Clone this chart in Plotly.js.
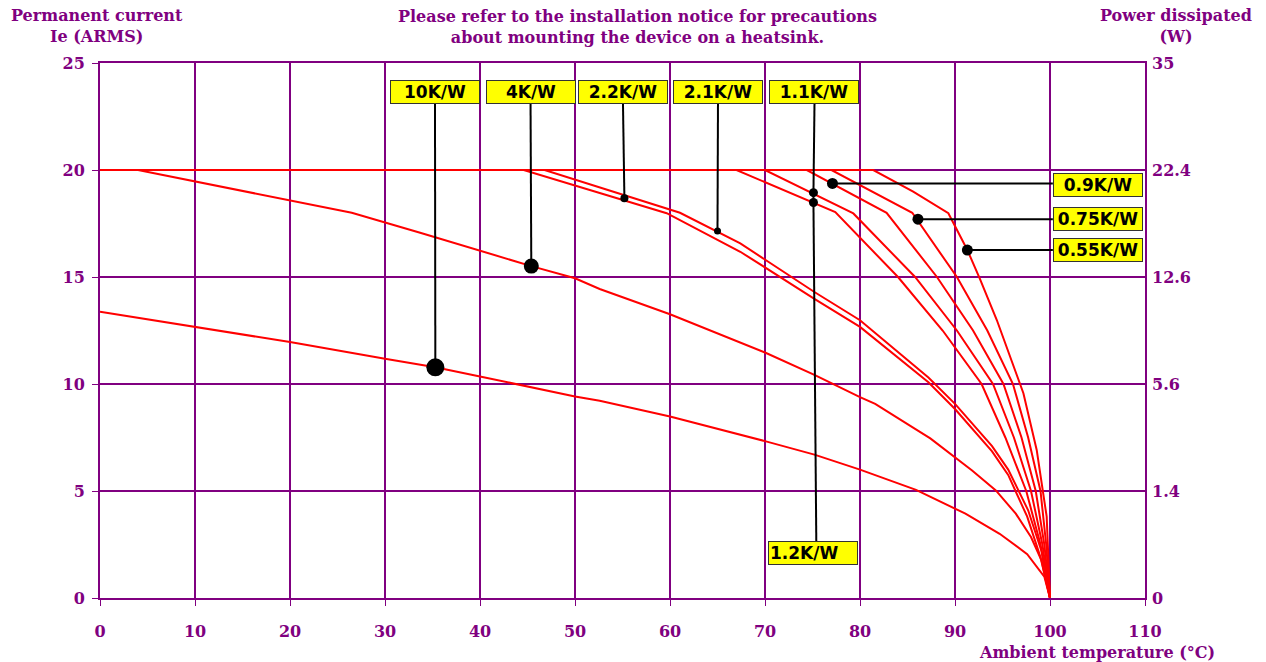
<!DOCTYPE html>
<html><head><meta charset="utf-8">
<script src="https://cdn.plot.ly/plotly-3.0.1.min.js"></script>
<style>html,body{margin:0;padding:0;background:#fff}#chart{width:1266px;height:662px}</style>
</head><body><div id="chart"></div>
<script>
// ---- data ----
const t10 = [0,10,20,30,35.3,40,50,52.6,60,70,75.2,80,85.9,91.1,94.7,97.6,99.4,100];
const i10 = [13.38,12.68,11.96,11.18,10.78,10.35,9.42,9.22,8.48,7.33,6.70,6.0,5.05,3.94,3.0,2.05,1.0,0];
const t4 = [0,4,26.5,33.7,45.4,50,52.6,60,70,75.2,80,81.6,85.8,87.4,91.8,94.3,96.4,98.0,99.1,100];
const i4 = [20,20,18.0,17.07,15.51,14.94,14.44,13.26,11.47,10.43,9.39,9.07,7.9,7.46,5.96,5.03,3.94,2.85,1.76,0];
const t22 = [0,44.6,59.65,67.4,75.2,80,87.2,90,93.9,95.6,97.6,99.0,100];
const i22 = [20,20,17.98,16.18,13.98,12.67,10.08,8.83,6.85,5.75,3.8,1.9,0];
const t21 = [0,46.8,61.05,67.4,75.2,80,87.2,90,93.9,95.6,97.7,99.1,100];
const i21 = [20,20,18.0,16.57,14.3,12.98,10.3,9.07,7.1,6.0,4.1,2.2,0];
const t12 = [0,67.0,77.4,84,88.7,92.8,95.3,97.5,99.0,100];
const i12 = [20,20,18.03,15,12.5,10,7.5,5,2.5,0];
const t11 = [0,70.0,79.3,85.8,90.2,94.0,96.2,98.0,99.2,100];
const i11 = [20,20,17.97,15,12.5,10,7.5,5,2.5,0];
const t09 = [0,74.4,82.8,88.1,91.9,95.1,97.0,98.5,99.4,100];
const i09 = [20,20,18.0,15,12.5,10,7.5,5,2.5,0];
const t075 = [0,77.0,85.5,90.2,93.4,96.1,97.7,99.0,99.6,100];
const i075 = [20,20,18.0,15,12.5,10,7.5,5,2.5,0];
const t055 = [0,81.4,85.6,89.3,91.3,92.6,94.4,96.1,97.2,98.6,99.65,100];
const i055 = [20,20,18.99,17.98,16.26,14.94,12.99,10.97,9.57,6.92,3.8,0];

const labels = ['10K/W','4K/W','2.2K/W','2.1K/W','1.1K/W','1.2K/W','0.9K/W','0.75K/W','0.55K/W'];
const markerX = [35.3,45.4,55.2,65.0,75.1,75.1,77.1,86.1,91.3];
const markerY = [10.78,15.51,18.68,17.15,18.94,18.48,19.37,17.7,16.26];

const xTicks = [0,10,20,30,40,50,60,70,80,90,100,110];
const yTicks = [0,5,10,15,20,25];
const powerTicks = ['0','1.4','5.6','12.6','22.4','35'];

// ---- styling / layout ----
const PURPLE = '#800080';
const serif = 'DejaVu Serif';
const curves = [[t10,i10],[t4,i4],[t22,i22],[t21,i21],[t12,i12],[t11,i11],[t09,i09],[t075,i075],[t055,i055]];
const traces = curves.map(c => ({
  x: c[0], y: c[1], type: 'scatter', mode: 'lines',
  line: {color: '#ff0000', width: 2}, hoverinfo: 'skip', showlegend: false
}));
traces.push({
  x: markerX, y: markerY, type: 'scatter', mode: 'markers',
  marker: {color: '#000', opacity: 1, size: [18,15,8,7,9,9,11,11,11], line: {width: 0}},
  showlegend: false, hoverinfo: 'skip'
});
traces.push({x: [0], y: [0], yaxis: 'y2', type: 'scatter', mode: 'markers',
  marker: {opacity: 0}, showlegend: false, hoverinfo: 'skip'});

// box placement (layout)
const boxPos = [
  [35.26,23.64],[45.32,23.64],[55.05,23.64],[65.05,23.64],[75.21,23.64],
  [75.1,2.10],[105.05,19.3],[105.05,17.71],[105.05,16.26]
];
const boxBottom = 23.08, lowBoxTop = 2.66, rightBoxLeft = 100.3;

const shapes = [];
labels.forEach((l, k) => {
  let x0, y0, x1, y1;
  if (k <= 4) { x0 = boxPos[k][0]; y0 = boxBottom; x1 = markerX[k]; y1 = markerY[k]; }
  else if (k === 5) { x0 = markerX[k]; y0 = markerY[k]; x1 = 75.4; y1 = lowBoxTop; }
  else { x0 = markerX[k]; y0 = markerY[k]; x1 = rightBoxLeft; y1 = markerY[k]; }
  shapes.push({type: 'line', xref: 'x', yref: 'y', x0, y0, x1, y1,
    line: {color: '#000', width: 2}});
});
shapes.push({type: 'line', xref: 'x', yref: 'y', x0: markerX[4], y0: markerY[4], x1: markerX[5], y1: markerY[5], line: {color:'#000', width:2}});

const annotations = labels.map((l, k) => ({
  x: boxPos[k][0], y: boxPos[k][1], xref: 'x', yref: 'y', text: l, showarrow: false,
  bgcolor: '#ffff00', bordercolor: '#333', borderwidth: 1, borderpad: 1,
  width: 86, height: 20, align: k === 5 ? 'left' : 'center',
  font: {family: 'DejaVu Sans', size: 17, color: '#000', weight: 'bold'}
}));
const tfont = {family: serif, size: 16, color: PURPLE, weight: 'bold'};
annotations.push({xref:'paper', yref:'paper', x:(97-100)/1045, y:(598-25.5)/535, xanchor:'center', yanchor:'middle',
  text:'Permanent current<br>Ie (ARMS)', showarrow:false, font: tfont});
annotations.push({xref:'paper', yref:'paper', x:(1176-100)/1045, y:(598-25.5)/535, xanchor:'center', yanchor:'middle',
  text:'Power dissipated<br>(W)', showarrow:false, font: tfont});
annotations.push({xref:'paper', yref:'paper', x:(637-100)/1045, y:(598-26.5)/535, xanchor:'center', yanchor:'middle',
  text:'Please refer to the installation notice for precautions<br>about mounting the device on a heatsink.', showarrow:false, font: tfont});
annotations.push({xref:'paper', yref:'paper', x:(1097-100)/1045, y:(598-652)/535, xanchor:'center', yanchor:'middle',
  text:'Ambient temperature (°C)', showarrow:false, font: tfont});

const tickFont = {family: serif, size: 16, color: PURPLE, weight: 'bold'};
const layout = {
  width: 1266, height: 662,
  margin: {l: 100, r: 121, t: 63, b: 64},
  paper_bgcolor: '#fff', plot_bgcolor: '#fff',
  showlegend: false,
  xaxis: {range: [0,110], tickvals: xTicks, showgrid: true, gridcolor: PURPLE, gridwidth: 2,
    showline: true, linecolor: PURPLE, linewidth: 2, mirror: true, zeroline: false,
    ticks: 'outside', ticklen: 6, tickcolor: PURPLE, tickwidth: 1, tickfont: tickFont, ticklabelstandoff: 12},
  yaxis: {range: [0,25], tickvals: yTicks, showgrid: true, gridcolor: PURPLE, gridwidth: 2,
    showline: true, linecolor: PURPLE, linewidth: 2, mirror: true, zeroline: false,
    ticks: 'outside', ticklen: 6, tickcolor: PURPLE, tickwidth: 1, tickfont: tickFont, ticklabelstandoff: 4},
  yaxis2: {range: [0,25], overlaying: 'y', side: 'right', tickvals: yTicks, ticktext: powerTicks,
    showgrid: false, zeroline: false, showline: false, ticks: '', tickfont: tickFont, ticklabelstandoff: 6},
  shapes, annotations
};
Plotly.newPlot('chart', traces, layout, {displayModeBar: false, staticPlot: true});
</script></body></html>
